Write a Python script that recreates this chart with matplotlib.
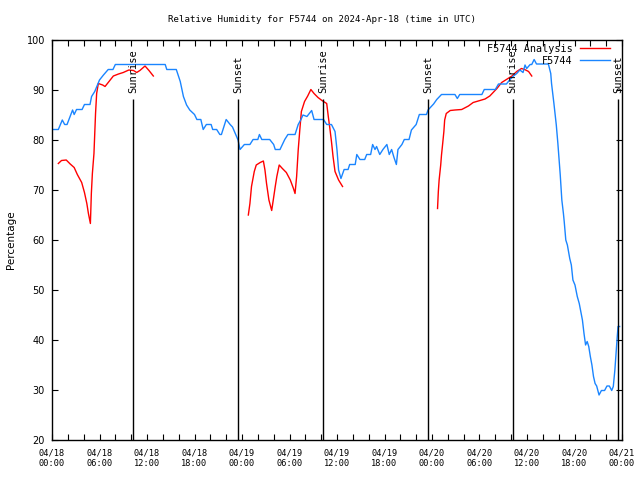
import numpy as np
import matplotlib
matplotlib.use('Agg')
import matplotlib.pyplot as plt

# observations (hours since 04/18 00:00 UTC, percent)
obs_hours = [0.0, 0.8, 1.3, 1.6, 1.9, 2.6, 2.8, 3.1, 3.8, 4.1, 4.8, 5.0, 5.4, 6.0, 6.5, 7.1, 7.7, 8.0,
             14.3, 14.5, 15.7, 16.2, 16.6, 17.0, 17.4, 18.0, 18.3, 18.8, 19.1, 19.5, 20.1, 20.3, 20.8,
             21.2, 21.4, 22.0, 22.5, 22.8, 23.2, 23.5, 23.75, 24.3, 25.0, 25.4, 26.0, 26.2, 26.5, 27.5,
             28.0, 28.2, 28.8, 29.1, 29.4, 29.8, 30.7, 31.1, 31.45, 31.7, 32.2, 32.8, 33.1, 34.3, 34.7,
             35.3, 35.75, 36.0, 36.2, 36.5, 36.9, 37.4, 37.6, 38.3, 38.5, 38.9, 39.5, 39.75, 40.25, 40.5,
             40.8, 41.0, 41.4, 41.8, 42.3, 42.6, 42.9, 43.2, 43.5, 43.7, 44.2, 44.5, 45.1, 45.4, 46.0,
             46.4, 47.3, 47.5, 48.2, 48.6, 49.2, 50.9, 51.2, 51.5, 54.3, 54.6, 56.0, 56.4, 57.4, 57.85,
             58.3, 58.7, 59.1, 59.5, 59.75, 59.96, 60.4, 60.6, 60.9, 61.2, 62.7, 63.0, 63.1, 63.4, 63.7,
             63.9, 64.2, 64.4, 64.6, 64.7, 64.9, 65.1, 65.4, 65.6, 65.8, 66.06, 66.35, 66.6, 66.8, 67.0,
             67.2, 67.4, 67.6, 67.8, 68.0, 68.2, 68.4, 68.6, 68.8, 69.1, 69.4, 69.8, 70.1, 70.4, 70.7,
             70.9, 71.1, 71.2, 71.4, 71.5, 71.7]
obs_rh = [82.1, 82.1, 84.0, 83.1, 83.1, 86.0, 85.1, 86.1, 86.1, 87.1, 87.1, 88.7, 89.7, 92.0, 93.0, 94.1, 94.1, 95.1,
          95.1, 94.1, 94.1, 91.7, 88.7, 87.0, 86.0, 85.1, 84.1, 84.1, 82.1, 83.1, 83.1, 82.1, 82.1,
          81.1, 81.1, 84.1, 83.1, 82.6, 81.1, 80.0, 78.1, 79.1, 79.1, 80.1, 80.1, 81.1, 80.1, 80.1,
          79.1, 78.1, 78.1, 79.1, 80.1, 81.1, 81.1, 83.1, 84.1, 85.0, 84.7, 85.9, 84.1, 84.1, 83.1,
          83.1, 81.7, 78.0, 74.0, 72.3, 74.1, 74.1, 75.1, 75.1, 77.1, 76.1, 76.1, 77.1, 77.1, 79.1,
          78.1, 78.7, 77.1, 78.1, 79.1, 77.1, 78.1, 76.5, 75.1, 78.1, 79.1, 80.1, 80.1, 82.0, 83.1,
          85.1, 85.1, 86.0, 87.2, 88.1, 89.1, 89.1, 88.3, 89.1, 89.1, 90.1, 90.1, 91.2, 91.2, 92.1,
          92.8, 93.3, 94.0, 93.5, 95.0, 94.3, 95.1, 95.1, 96.1, 95.2, 95.2, 93.3, 91.3, 87.3, 83.0,
          79.3, 73.0, 68.0, 65.3, 63.7, 60.0, 59.0, 56.3, 55.0, 52.0, 51.0, 48.7, 47.3, 45.7, 44.0,
          41.3, 39.0, 39.7, 38.7, 36.7, 35.0, 32.7, 31.3, 30.8, 29.0, 29.9, 29.9, 30.8, 30.8, 29.9,
          30.7, 34.0, 36.3, 40.7, 42.7, 42.7]

# analysis (three runs, gaps between)
ana_hours = [0.8, 1.2, 1.8, 2.3, 2.8, 3.2, 3.75, 4.1, 4.4, 4.6, 4.85, 4.97, 5.1, 5.3, 5.4, 5.5, 5.64, 5.85,
             6.4, 6.7, 7.2, 7.75, 8.4, 9.0, 9.7, 10.3, 10.7, 11.1, 11.75, 12.25, 12.8, np.nan,
             24.8, 25.0, 25.2, 25.55, 25.8, 26.3, 26.7, 26.9, 27.1, 27.4, 27.75, 27.95, 28.2, 28.4, 28.7,
             29.1, 29.6, 30.1, 30.5, 30.7, 30.9, 31.1, 31.3, 31.5, 31.9, 32.3, 32.7, 33.1, 33.6, 34.1,
             34.7, 34.9, 35.1, 35.3, 35.5, 35.75, 36.2, 36.7, np.nan,
             48.7, 48.8, 48.9, 49.1, 49.2, 49.35, 49.5, 49.6, 49.8, 50.3, 50.9, 51.75, 52.6, 53.2, 54.06,
             54.7, 55.3, 56.2, 56.8, 57.4, 58.1, 58.7, 59.3, 59.7, 60.2, 60.6]
ana_rh = [75.3, 75.9, 76.0, 75.2, 74.5, 73.1, 71.5, 69.5, 67.3, 65.3, 63.3, 69.3, 73.3, 77.3, 81.3, 85.3, 89.3, 91.3,
          91.0, 90.7, 91.7, 92.8, 93.2, 93.5, 94.0, 93.9, 93.5, 93.9, 94.8, 93.9, 92.8, np.nan,
          65.0, 67.3, 70.7, 73.7, 75.0, 75.5, 75.8, 74.0, 71.3, 68.0, 65.9, 68.0, 70.7, 72.7, 75.0,
          74.3, 73.5, 72.0, 70.3, 69.3, 72.7, 78.0, 82.0, 85.7, 87.7, 88.8, 90.1, 89.3, 88.5, 87.9,
          87.3, 84.7, 82.3, 79.7, 76.7, 73.7, 72.0, 70.7, np.nan,
          66.3, 69.7, 72.0, 75.0, 77.0, 79.3, 81.7, 84.0, 85.3, 85.9, 86.0, 86.1, 86.8, 87.5, 87.9,
          88.2, 88.8, 90.3, 91.5, 92.1, 92.8, 93.7, 94.3, 94.1, 93.7, 92.8]

sun_hours = [10.27, 23.53, 34.27, 47.53, 58.2, 71.53]
sun_labels = ['Sunrise', 'Sunset', 'Sunrise', 'Sunset', 'Sunrise', 'Sunset']

tick_hours = [0, 6, 12, 18, 24, 30, 36, 42, 48, 54, 60, 66, 72]
tick_labels = ['04/18\n00:00', '04/18\n06:00', '04/18\n12:00', '04/18\n18:00',
               '04/19\n00:00', '04/19\n06:00', '04/19\n12:00', '04/19\n18:00',
               '04/20\n00:00', '04/20\n06:00', '04/20\n12:00', '04/20\n18:00',
               '04/21\n00:00']

mono = 'DejaVu Sans Mono'

fig = plt.figure(figsize=(6.4, 4.8), dpi=100)
ax = fig.add_axes([52 / 640, 40 / 480, 570 / 640, 400 / 480])

ax.plot(ana_hours, ana_rh, color='#ff0000', lw=1.0, label='F5744 Analysis')
ax.plot(obs_hours, obs_rh, color='#1a85ff', lw=1.0, label='F5744')

for h, s in zip(sun_hours, sun_labels):
    ax.vlines(h, 20, 88.2, color='black', lw=1.0)
    ax.text(h, 89.4, s, rotation=90, ha='center', va='bottom', family=mono, fontsize=7.5)

ax.set_xlim(0, 72)
ax.set_ylim(20, 100)
ax.set_xticks(tick_hours)
ax.set_xticklabels(tick_labels, family=mono, fontsize=6.2)
ax.set_xticks(np.arange(0, 73, 2), minor=True)
ax.set_yticks(range(20, 101, 10))
ax.tick_params(axis='both', which='both', direction='in', length=4, width=0.8,
               top=True, right=True)
ax.tick_params(axis='y', labelsize=7, pad=5)
ax.tick_params(axis='x', pad=6)
for sp in ax.spines.values():
    sp.set_linewidth(1.0)

leg = ax.legend(loc='upper right', bbox_to_anchor=(0.979, 0.99), frameon=False,
                markerfirst=False, prop={'family': mono, 'size': 7.3}, handlelength=3.0,
                borderpad=0, borderaxespad=0, labelspacing=0.2, handletextpad=0.7)

fig.text(322 / 640, 1 - 19 / 480, 'Relative Humidity for F5744 on 2024-Apr-18 (time in UTC)',
         ha='center', va='center', family=mono, fontsize=6.6)
fig.text(11 / 640, 0.5, 'Percentage', rotation=90, ha='center', va='center', fontsize=7.5)

plt.savefig('out.png')
